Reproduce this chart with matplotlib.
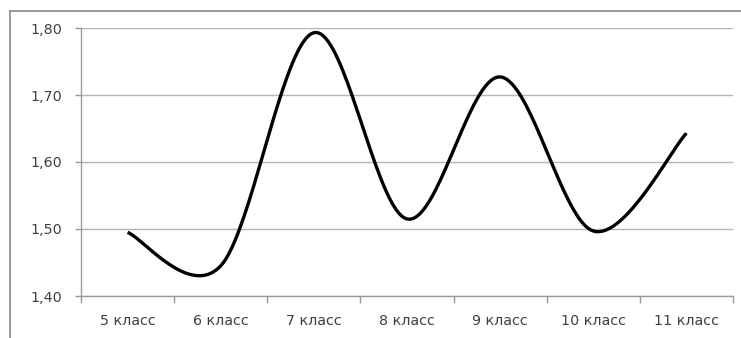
import numpy as np
import matplotlib
matplotlib.use("Agg")
import matplotlib.pyplot as plt
from matplotlib.lines import Line2D

categories = ["5 класс", "6 класс", "7 класс", "8 класс", "9 класс", "10 класс", "11 класс"]
values = [1.495, 1.445, 1.793, 1.515, 1.727, 1.497, 1.643]
yticks = [1.40, 1.50, 1.60, 1.70, 1.80]
ytick_labels = ["1,40", "1,50", "1,60", "1,70", "1,80"]


def excel_smooth(xs, ys, n=40):
    xs = np.asarray(xs, float)
    ys = np.asarray(ys, float)
    m = len(xs)
    outx, outy = [], []
    for i in range(m - 1):
        p0 = np.array([xs[i], ys[i]])
        p1 = np.array([xs[i + 1], ys[i + 1]])
        pm = np.array([xs[max(i - 1, 0)], ys[max(i - 1, 0)]])
        pp = np.array([xs[min(i + 2, m - 1)], ys[min(i + 2, m - 1)]])
        c1 = p0 + (p1 - pm) / 6.0
        c2 = p1 - (pp - p0) / 6.0
        t = np.linspace(0, 1, n)[:, None]
        b = ((1 - t) ** 3) * p0 + 3 * ((1 - t) ** 2) * t * c1 + 3 * (1 - t) * t ** 2 * c2 + t ** 3 * p1
        outx.extend(b[:, 0])
        outy.extend(b[:, 1])
    return np.array(outx), np.array(outy)


fig = plt.figure(figsize=(7.41, 3.38), dpi=100)
ax = fig.add_axes([81 / 741, 42 / 338, (733 - 81) / 741, (296 - 28) / 338])

x = np.arange(len(categories))
sx, sy = excel_smooth(x, values)
ax.plot(sx, sy, color="black", lw=2.4, solid_capstyle="butt", zorder=3)

ax.set_xlim(-0.5, len(categories) - 0.5)
ax.set_ylim(1.40, 1.80)
ax.set_yticks(yticks)
ax.set_yticklabels(ytick_labels)
ax.set_xticks(x)
ax.set_xticklabels(categories)
ax.set_xticks(np.arange(-0.5, len(categories), 1.0), minor=True)

ax.grid(axis="y", color="#b4b4b4", lw=1.0)
ax.set_axisbelow(True)
for s in ["top", "right"]:
    ax.spines[s].set_visible(False)
for s in ["left", "bottom"]:
    ax.spines[s].set_color("#9a9a9a")
    ax.spines[s].set_linewidth(1.0)

ax.tick_params(axis="x", which="major", length=0, pad=13, labelsize=10.3, labelcolor="#404040")
ax.tick_params(axis="x", which="minor", length=5, direction="out", color="#9a9a9a", width=1.0)
ax.tick_params(axis="y", which="major", length=4.5, direction="out", color="#9a9a9a", width=1.0,
               pad=9, labelsize=10.3, labelcolor="#404040")

# outer chart border
fig.add_artist(Line2D([10 / 741, 10 / 741], [-0.1, 1 - 11 / 338], color="#8a8a8a", lw=1.2))
fig.add_artist(Line2D([10 / 741, 1.1], [1 - 11 / 338, 1 - 11 / 338], color="#8a8a8a", lw=1.2))

fig.savefig("out.png", dpi=100)
